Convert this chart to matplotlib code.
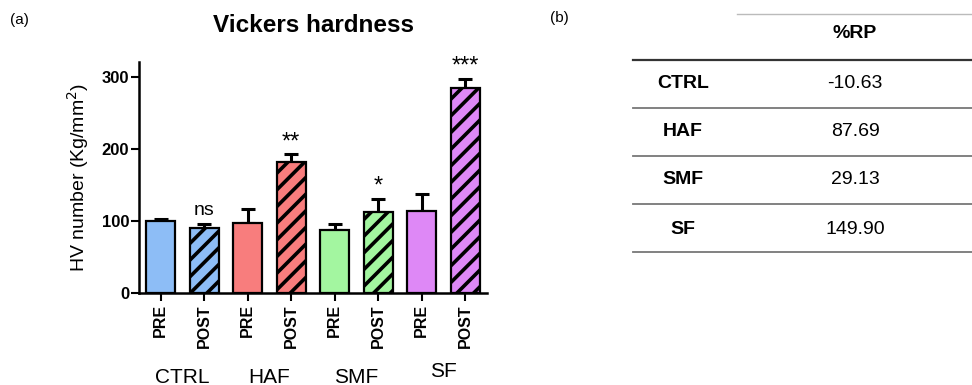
import matplotlib
matplotlib.use("Agg")
import matplotlib.pyplot as plt
from matplotlib.lines import Line2D
import numpy as np

plt.rcParams['font.family'] = ['Liberation Sans', 'DejaVu Sans']
plt.rcParams['hatch.linewidth'] = 2.6

# ---- data ----
groups = ["CTRL", "HAF", "SMF", "SF"]
phases = ["PRE", "POST"]
pre_values = [100, 97, 87, 113]
post_values = [90, 182, 112, 285]
pre_err = [3, 19, 8, 24]
post_err = [5, 11, 19, 13]
post_signif = ["ns", "**", "*", "***"]
group_colors = ["#8dbdf6", "#f87d7d", "#a3f6a0", "#de88f6"]

table_header = "%RP"
table_rows = ["CTRL", "HAF", "SMF", "SF"]
table_values = ["-10.63", "87.69", "29.13", "149.90"]

fig = plt.figure(figsize=(9.72, 3.85), dpi=100)
ax = fig.add_axes([139/972, 1-292.7/385, (487-139)/972, (292.7-62)/385])

values, errs, colors, hatches, labels = [], [], [], [], []
for g in range(len(groups)):
    values += [pre_values[g], post_values[g]]
    errs += [pre_err[g], post_err[g]]
    colors += [group_colors[g]] * 2
    hatches += [None, "//"]
    labels += phases
x = np.arange(len(values))

bars = ax.bar(x, values, width=0.67, color=colors, edgecolor="black",
              linewidth=1.6, zorder=2)
for b, h in zip(bars, hatches):
    if h:
        b.set_hatch(h)
ax.errorbar(x, values, yerr=[np.zeros(len(values)), errs], fmt="none",
            ecolor="black", elinewidth=2.2, capsize=5, capthick=2.2, zorder=1)

for g in range(len(groups)):
    xi = 2*g + 1
    top = post_values[g] + post_err[g]
    s = post_signif[g]
    if s == "ns":
        ax.text(xi, top + 8, s, ha="center", va="bottom", fontsize=14)
    else:
        ax.text(xi, top + 1, s, ha="center", va="bottom", fontsize=17)

ax.set_xlim(-0.5, 7.5)
ax.set_ylim(0, 321)
ax.set_yticks([0, 100, 200, 300])
ax.set_yticklabels(["0", "100", "200", "300"], fontsize=12, fontweight="bold")
ax.set_xticks(x)
ax.set_xticklabels([])
ax.tick_params(axis="x", direction="out", length=6, width=1.5)
ax.tick_params(axis="y", direction="out", length=6, width=1.5, pad=1)
for sp in ["top", "right"]:
    ax.spines[sp].set_visible(False)
for sp in ["left", "bottom"]:
    ax.spines[sp].set_linewidth(1.8)
ax.set_ylabel("HV number (Kg/mm$^2$)", fontsize=14, labelpad=8)

# phase tick labels
trans = ax.get_xaxis_transform()
for xi, lab in zip(x, labels):
    ax.text(xi, -0.05, lab, transform=trans, rotation=90, ha="center",
            va="top", fontsize=11.5, fontweight="bold")

# group labels
group_y = [-0.325, -0.325, -0.325, -0.30]
for g, name in enumerate(groups):
    ax.text(2*g + 0.5, group_y[g], name, transform=trans, ha="center",
            va="top", fontsize=15)

fig.text(313/972, 1-25/385, "Vickers hardness", ha="center", va="center",
         fontsize=17.5, fontweight="bold")
fig.text(10/972, 1-20/385, "(a)", ha="left", va="center", fontsize=11)
fig.text(550/972, 1-18/385, "(b)", ha="left", va="center", fontsize=11)

# ---- table (b) ----
def hline(y, x0, color, lw):
    fig.add_artist(Line2D([x0/972, 1.0], [1-y/385, 1-y/385], color=color,
                          linewidth=lw, transform=fig.transFigure))

hline(14, 737, "#bbbbbb", 1.0)
hline(60, 633, "#333333", 1.6)
row_lines = [108, 156, 204, 252]
for yl in row_lines:
    hline(yl, 633, "#777777", 1.3)

fig.text(855/972, 1-33/385, table_header, ha="center", va="center",
         fontsize=14, fontweight="bold")
row_centers = [84, 132, 180, 229]
for yc, name, val in zip(row_centers, table_rows, table_values):
    fig.text(683/972, 1-yc/385, name, ha="center", va="center",
             fontsize=14, fontweight="bold")
    fig.text(855/972, 1-yc/385, val, ha="center", va="center", fontsize=14)

fig.savefig("out.png", dpi=100)
